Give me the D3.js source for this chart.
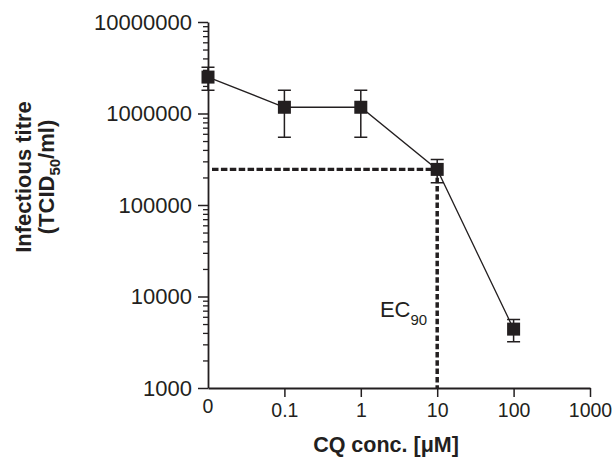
<!DOCTYPE html>
<html>
<head>
<meta charset="utf-8">
<script src="https://cdn.jsdelivr.net/npm/d3@7"></script>
<style>
  body { margin: 0; background: #fff; }
  text { font-family: "Liberation Sans", Arial, sans-serif; fill: #231f20; }
</style>
</head>
<body>
<div id="vis"></div>
<script>
// CQ concentration (uM); "0" is drawn at the 0.01 position of the log axis
const concLabels = ["0", "0.1", "1", "10", "100"]
const concValues = [0.01, 0.1, 1, 10, 100]
const titre = [2500000, 1170000, 1170000, 245000, 4400]
const titreSD = [700000, 620000, 620000, 70000, 1200]

const xTickValues = [0.1, 1, 10, 100, 1000]
const xTickLabels = ["0.1", "1", "10", "100", "1000"]
const yTickValues = [1e3, 1e4, 1e5, 1e6, 1e7]

const ec90Conc = 10
const ec90Titre = 245000

const ink = "#231f20"

let svg = d3.select("#vis").append("svg")
    .attr("width", 615)
    .attr("height", 458)

let x = d3.scaleLog().domain([0.01, 1000]).range([208, 590])
let y = d3.scaleLog().domain([1e3, 1e7]).range([388, 22])

// minor y ticks 2..9 in each decade
let minor = []
yTickValues.slice(0, -1).forEach(d => {
    for (let k = 2; k <= 9; k++) minor.push(d * k)
})

svg.append("g")
    .attr("transform", "translate(208,0)")
    .call(d3.axisLeft(y).tickValues(minor).tickSize(5).tickFormat(""))
    .call(g => g.select(".domain").remove())
    .call(g => g.selectAll("line").attr("stroke", ink).attr("stroke-width", 1.3))

let yAxis = svg.append("g")
    .attr("transform", "translate(208,0)")
    .call(d3.axisLeft(y).tickValues(yTickValues).tickSize(10).tickSizeOuter(0)
        .tickFormat(d3.format("d")).tickPadding(6))
yAxis.select(".domain").attr("stroke", ink).attr("stroke-width", 1.8)
yAxis.selectAll("line").attr("stroke", ink).attr("stroke-width", 1.5)
yAxis.selectAll("text").attr("font-size", 22).attr("fill", ink)
    .attr("font-family", "Liberation Sans, Arial, sans-serif")

let xAxis = svg.append("g")
    .attr("transform", "translate(0,388)")
    .call(d3.axisBottom(x).tickValues(xTickValues).tickSize(9).tickSizeOuter(0)
        .tickFormat((d, i) => xTickLabels[i]).tickPadding(6))
xAxis.select(".domain").attr("stroke", ink).attr("stroke-width", 1.8)
xAxis.selectAll("line").attr("stroke", ink).attr("stroke-width", 1.5)
xAxis.selectAll("text").attr("font-size", 19.5).attr("fill", ink)
    .attr("font-family", "Liberation Sans, Arial, sans-serif")

// the "0" label at the origin
svg.append("text")
    .attr("x", x(concValues[0]))
    .attr("y", 413)
    .attr("text-anchor", "middle")
    .attr("font-size", 19.5)
    .text(concLabels[0])

// EC90 guides
svg.append("line")
    .attr("x1", 212).attr("x2", x(ec90Conc))
    .attr("y1", y(ec90Titre)).attr("y2", y(ec90Titre))
    .attr("stroke", ink).attr("stroke-width", 3.3)
    .attr("stroke-dasharray", "6.5,2.4")
svg.append("line")
    .attr("x1", x(ec90Conc)).attr("x2", x(ec90Conc))
    .attr("y1", y(ec90Titre)).attr("y2", 388)
    .attr("stroke", ink).attr("stroke-width", 3.5)
    .attr("stroke-dasharray", "5.5,2.8")

let ec = svg.append("text")
    .attr("x", x(ec90Conc) - 10)
    .attr("y", 317)
    .attr("text-anchor", "end")
    .attr("font-size", 22)
ec.append("tspan").text("EC")
ec.append("tspan").attr("font-size", 15).attr("dy", 8).text("90")

let pts = concValues.map((c, i) => ({c: c, v: titre[i], sd: titreSD[i]}))

svg.append("path")
    .datum(pts)
    .attr("fill", "none")
    .attr("stroke", ink)
    .attr("stroke-width", 1.3)
    .attr("d", d3.line().x(d => x(d.c)).y(d => y(d.v)))

let err = svg.append("g")
    .attr("stroke", ink)
    .attr("stroke-width", 1.5)
err.selectAll(".bar")
    .data(pts)
    .join("path")
    .attr("fill", "none")
    .attr("d", d => {
        let cx = x(d.c), t = y(d.v + d.sd), b = y(d.v - d.sd)
        return `M ${cx - 6.5} ${t} H ${cx + 6.5} M ${cx} ${t} V ${b} M ${cx - 6.5} ${b} H ${cx + 6.5}`
    })

svg.append("g")
    .selectAll("rect")
    .data(pts)
    .join("rect")
    .attr("x", d => x(d.c) - 6.5)
    .attr("y", d => y(d.v) - 6.5)
    .attr("width", 13)
    .attr("height", 13)
    .attr("fill", ink)

// axis titles
svg.append("text")
    .attr("x", 386)
    .attr("y", 452)
    .attr("text-anchor", "middle")
    .attr("font-size", 21.5)
    .attr("font-weight", "bold")
    .text("CQ conc. [\u03bcM]")

let yl = svg.append("g").attr("transform", "translate(0,177) rotate(-90)")
yl.append("text")
    .attr("x", 0).attr("y", 31)
    .attr("text-anchor", "middle")
    .attr("font-size", 22)
    .attr("font-weight", "bold")
    .text("Infectious titre")
let yl2 = yl.append("text")
    .attr("x", 0).attr("y", 54)
    .attr("text-anchor", "middle")
    .attr("font-size", 22)
    .attr("font-weight", "bold")
yl2.append("tspan").text("(TCID")
yl2.append("tspan").attr("font-size", 15).attr("dy", 6).text("50")
yl2.append("tspan").attr("dy", -6).text("/ml)")
</script>
</body>
</html>
